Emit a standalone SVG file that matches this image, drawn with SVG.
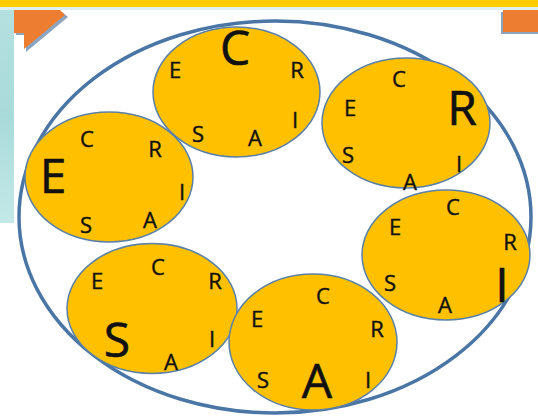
<svg xmlns="http://www.w3.org/2000/svg" width="538" height="418" viewBox="0 0 538 418">
<defs>
<radialGradient id="glow" cx="0.5" cy="0" r="0.5">
<stop offset="0" stop-color="#FFE680"/>
<stop offset="1" stop-color="#FFCC00"/>
</radialGradient>
<linearGradient id="panel" x1="0" y1="0" x2="0" y2="1">
<stop offset="0" stop-color="#B5E0E0"/>
<stop offset="0.5" stop-color="#A9DADA"/>
<stop offset="1" stop-color="#C4E8E8"/>
</linearGradient>
<style>
.bub{fill:#FFC000;stroke:#5A80A8;stroke-width:1.5}
.big{fill:none;stroke:#4A76A6;stroke-width:3.5}
text{font-family:"Open Sans","DejaVu Sans",sans-serif;fill:#111;text-anchor:middle;stroke:#111;stroke-width:0.4}
.s{font-size:22px}
.l{font-size:48px;stroke-width:0.6}
.tab{fill:#ED7D31}
</style>
</defs>
<rect x="0" y="0" width="538" height="418" fill="#FFFFFF"/>
<rect x="0" y="0" width="538" height="7" fill="#FFCC00"/>
<ellipse cx="282" cy="0" rx="75" ry="10" fill="url(#glow)"/>
<rect x="0" y="7" width="538" height="3" fill="#DFF0F0"/>
<rect x="0" y="10" width="14" height="213" fill="url(#panel)"/>
<polygon points="16,12 62,12 68,17 26,52 26,35 16,35" fill="#6F8FAF" opacity="0.8"/>
<polygon class="tab" points="14,10 60,10 65,15 24,49 24,33 14,33"/>
<rect x="501" y="12" width="37" height="22" fill="#6F8FAF" opacity="0.8"/>
<rect class="tab" x="503" y="10" width="35" height="22"/>
<ellipse class="big" cx="275" cy="217" rx="256" ry="196"/>
<g id="node-C">
<ellipse class="bub" cx="236.5" cy="92" rx="83.5" ry="65"/>
<text class="l" x="235" y="65">C</text>
<text class="s" x="175" y="78">E</text>
<text class="s" x="297" y="78">R</text>
<text class="s" x="295" y="128">I</text>
<text class="s" x="255" y="146">A</text>
<text class="s" x="198" y="142">S</text>
</g>
<g id="node-R">
<ellipse class="bub" cx="406" cy="123" rx="84" ry="65"/>
<text class="l" x="462" y="125">R</text>
<text class="s" x="399" y="87">C</text>
<text class="s" x="350" y="116">E</text>
<text class="s" x="348" y="163">S</text>
<text class="s" x="459" y="172">I</text>
<text class="s" x="410" y="190">A</text>
</g>
<g id="node-I">
<ellipse class="bub" cx="446" cy="255" rx="84" ry="65"/>
<text class="l" x="502" y="302">I</text>
<text class="s" x="453" y="215">C</text>
<text class="s" x="395" y="235">E</text>
<text class="s" x="510" y="250">R</text>
<text class="s" x="390" y="291">S</text>
<text class="s" x="445" y="313">A</text>
</g>
<g id="node-E">
<ellipse class="bub" cx="109" cy="177" rx="84" ry="65"/>
<text class="l" x="53" y="193">E</text>
<text class="s" x="87" y="147">C</text>
<text class="s" x="155" y="157">R</text>
<text class="s" x="182" y="200">I</text>
<text class="s" x="150" y="228">A</text>
<text class="s" x="86" y="233">S</text>
</g>
<g id="node-S">
<ellipse class="bub" cx="152" cy="308.5" rx="85" ry="65"/>
<text class="l" x="117" y="357">S</text>
<text class="s" x="97" y="289">E</text>
<text class="s" x="158" y="275">C</text>
<text class="s" x="215" y="289">R</text>
<text class="s" x="212" y="347">I</text>
<text class="s" x="171" y="370">A</text>
</g>
<g id="node-A">
<ellipse class="bub" cx="313" cy="342" rx="84" ry="68"/>
<text class="l" x="317" y="398">A</text>
<text class="s" x="323" y="304">C</text>
<text class="s" x="257" y="327">E</text>
<text class="s" x="377" y="337">R</text>
<text class="s" x="263" y="388">S</text>
<text class="s" x="368" y="388">I</text>
</g>
</svg>
